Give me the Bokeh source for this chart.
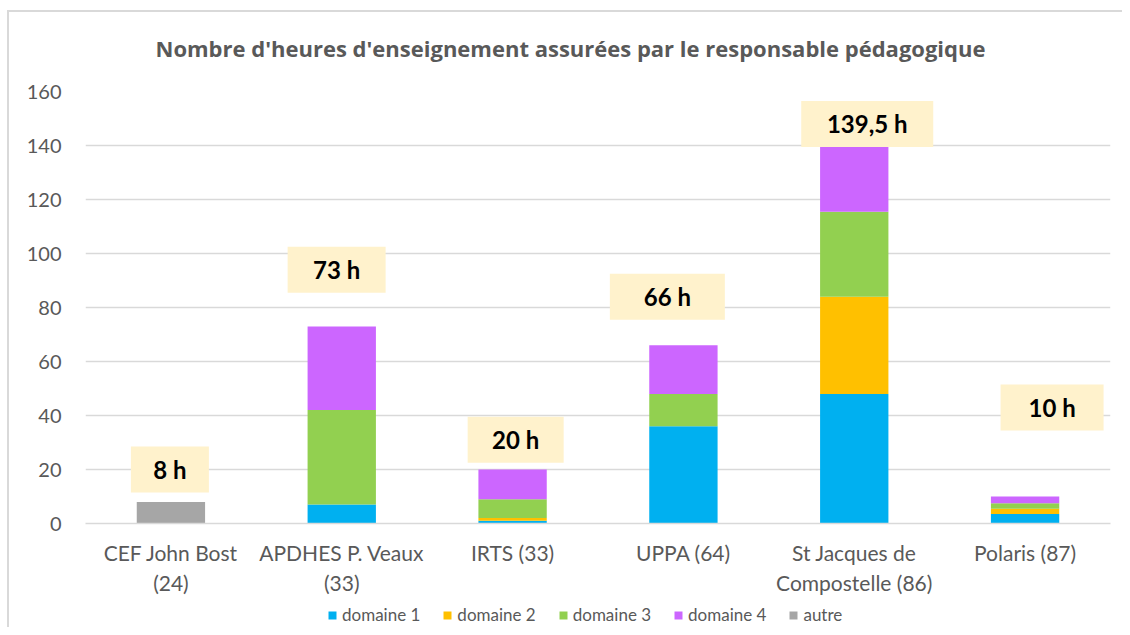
from bokeh.plotting import figure
from bokeh.layouts import column
from bokeh.models import (ColumnDataSource, FactorRange, Legend, LegendItem, Range1d,
                          FixedTicker, Rect, Text, Title)
from bokeh.embed import file_html
from bokeh.resources import INLINE
from bokeh.core.properties import value

# ---- data ----
categories = ["CEF John Bost\n(24)", "APDHES P. Veaux\n(33)", "IRTS (33)", "UPPA (64)",
              "St Jacques de\nCompostelle (86)", "Polaris (87)"]
domaine1 = [0, 7, 1, 36, 48, 3.5]
domaine2 = [0, 0, 1, 0, 36, 2]
domaine3 = [0, 35, 7, 12, 31.5, 2]
domaine4 = [0, 31, 11, 18, 24, 2.5]
autre = [8, 0, 0, 0, 0, 0]
series_names = ["domaine 1", "domaine 2", "domaine 3", "domaine 4", "autre"]
y_ticks = [0, 20, 40, 60, 80, 100, 120, 140, 160]
title_text = "Nombre d'heures d'enseignement assurées par le responsable pédagogique"

# ---- label layout (manually placed boxes in the original) ----
label_y = [20, 94, 31, 84, 148, 43]
label_dx = [-0.006, -0.03, 0.018, -0.094, 0.076, 0.158]   # shift in category widths
label_w = [78, 98, 96, 115, 132, 103]

colors = ["#00B0F0", "#FFC000", "#92D050", "#CC66FF", "#A6A6A6"]
FONT = "Lato"
GRAY = "#595959"

totals = [a + b + c + d + e for a, b, c, d, e in zip(domaine1, domaine2, domaine3, domaine4, autre)]
label_text = [(f"{t:g}".replace(".", ",")) + " h" for t in totals]
label_x = [i + 0.5 + dx for i, dx in enumerate(label_dx)]

keys = ["d1", "d2", "d3", "d4", "autre"]
src = ColumnDataSource(dict(cat=categories, d1=domaine1, d2=domaine2, d3=domaine3, d4=domaine4, autre=autre))
lsrc = ColumnDataSource(dict(x=label_x, y=label_y, w=label_w, txt=label_text))

p = figure(width=1122, height=600, x_range=FactorRange(factors=categories), y_range=Range1d(0, 160),
           output_backend="svg", toolbar_location=None,
           min_border_left=85, min_border_right=12, min_border_top=91, min_border_bottom=77)
p.outline_line_color = None
p.background_fill_color = "white"
p.border_fill_color = None

renderers = p.vbar_stack(keys, x="cat", width=0.4, color=colors, source=src, line_color=None)

# label boxes
rect = Rect(x="x", y="y", width="w", height=46, width_units="screen", height_units="screen",
            fill_color="#FFF2CC", line_color=None)
p.add_glyph(lsrc, rect)
txt = Text(x="x", y="y", text="txt", text_align="center", text_baseline="middle",
           text_font=value(FONT), text_font_style="bold", text_font_size="24px", text_color="black")
p.add_glyph(lsrc, txt)

# axes
p.yaxis.ticker = FixedTicker(ticks=y_ticks)
p.yaxis.axis_line_color = None
p.yaxis.major_tick_line_color = None
p.yaxis.minor_tick_line_color = None
p.yaxis.major_label_standoff = 18
p.yaxis.major_label_text_font = FONT
p.yaxis.major_label_text_font_size = "20px"
p.yaxis.major_label_text_color = GRAY

p.xaxis.axis_line_color = "#D9D9D9"
p.xaxis.axis_line_width = 1.5
p.xaxis.major_tick_line_color = None
p.xaxis.minor_tick_line_color = None
p.xaxis.major_label_standoff = 10
p.xaxis.major_label_text_font = FONT
p.xaxis.major_label_text_font_size = "21px"
p.xaxis.major_label_text_color = GRAY

p.xgrid.grid_line_color = None
p.ygrid.grid_line_color = "#D9D9D9"
p.ygrid.grid_line_width = 1.5

# title
p.title = Title(text=title_text, align="left", offset=70, vertical_align="bottom", standoff=58,
                text_font="Open Sans", text_font_style="bold", text_font_size="22px",
                text_color=GRAY)

# legend (own strip below the chart)
leg = figure(width=1122, height=27, x_range=Range1d(0, 1), y_range=Range1d(0, 1),
             output_backend="svg", toolbar_location=None, min_border=0,
             x_axis_location=None, y_axis_location=None)
leg.grid.visible = False
leg.outline_line_color = None
leg.background_fill_color = None
leg.border_fill_color = None
leg_src = ColumnDataSource(dict(x=[-10], top=[-10]))  # off-view, only feeds the legend swatches
leg_renderers = [leg.vbar(x="x", top="top", width=1, fill_color=c, line_color=None, source=leg_src)
                 for c in colors]
items = [LegendItem(label=n, renderers=[r]) for n, r in zip(series_names, leg_renderers)]
legend = Legend(items=items, orientation="horizontal", location=(242, 2),
                label_text_font=FONT, label_text_font_size="17px", label_text_color=GRAY,
                glyph_width=10, glyph_height=10, label_standoff=5, spacing=22,
                border_line_color=None, background_fill_alpha=0, padding=0, margin=0)
leg.add_layout(legend)

layout = column(p, leg, spacing=0)
layout.styles = {"background": "linear-gradient(#D9D9D9,#D9D9D9) 7px 10px / 2px calc(100% - 10px) no-repeat, "
                               "linear-gradient(#D9D9D9,#D9D9D9) 7px 10px / calc(100% - 7px) 2px no-repeat, white"}

open("out.html", "w").write(file_html(layout, INLINE))
